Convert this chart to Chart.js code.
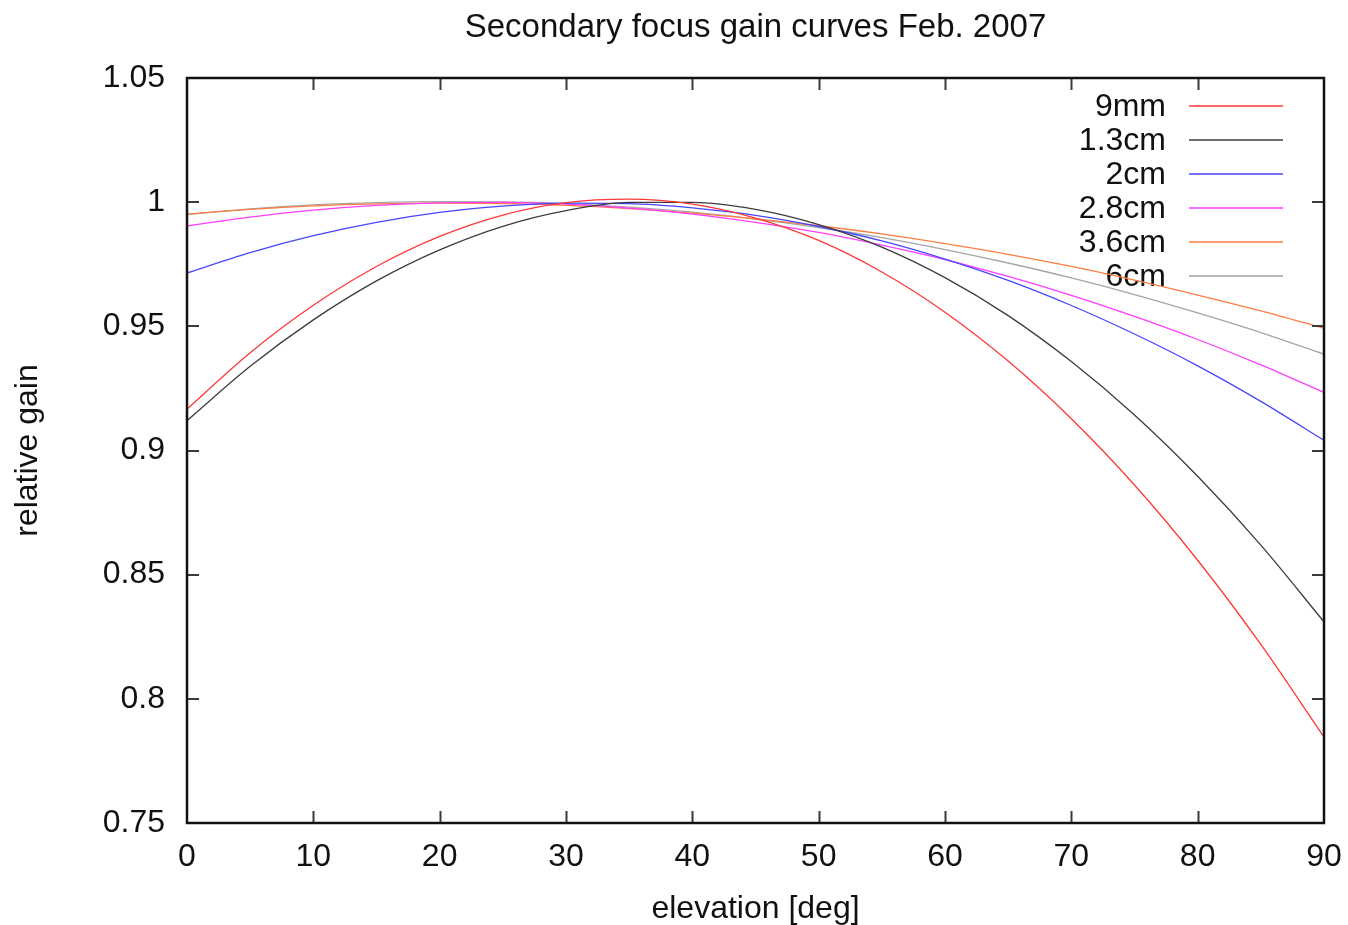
<!DOCTYPE html>
<html>
<head>
<meta charset="utf-8">
<title>Secondary focus gain curves Feb. 2007</title>
<script src="https://cdn.jsdelivr.net/npm/chart.js@4.4.1/dist/chart.umd.min.js"></script>
<style>
  html, body { margin: 0; padding: 0; background: #ffffff; }
  #wrap { width: 1348px; height: 925px; position: relative; }
</style>
</head>
<body>
<div id="wrap"><canvas id="chart" width="1348" height="925"></canvas></div>
<script>
// Elevation samples (degrees)
const elevation = [0, 5, 10, 15, 20, 25, 30, 35, 40, 45, 50, 55, 60, 65, 70, 75, 80, 85, 90];

// Relative gain per receiver band
const gain9mm  = [0.9167, 0.9394, 0.9585, 0.9741, 0.9862, 0.9948, 0.9998, 1.0012, 0.9992, 0.9936,
                  0.9846, 0.9719, 0.9557, 0.9360, 0.9128, 0.8861, 0.8558, 0.8219, 0.7846];
const gain13cm = [0.9120, 0.9339, 0.9526, 0.9683, 0.9808, 0.9903, 0.9966, 0.9999, 0.9999, 0.9971,
                  0.9910, 0.9819, 0.9696, 0.9543, 0.9358, 0.9143, 0.8896, 0.8619, 0.8310];
const gain2cm  = [0.9715, 0.9797, 0.9865, 0.9919, 0.9959, 0.9984, 0.9996, 0.9994, 0.9977, 0.9947,
                  0.9902, 0.9844, 0.9771, 0.9685, 0.9584, 0.9469, 0.9341, 0.9198, 0.9041];
const gain28cm = [0.9904, 0.9940, 0.9968, 0.9987, 0.9997, 0.9999, 0.9992, 0.9976, 0.9952, 0.9919,
                  0.9878, 0.9827, 0.9769, 0.9701, 0.9625, 0.9540, 0.9447, 0.9345, 0.9234];
const gain36cm = [0.9952, 0.9971, 0.9985, 0.9993, 0.9996, 0.9994, 0.9987, 0.9974, 0.9956, 0.9933,
                  0.9905, 0.9872, 0.9833, 0.9790, 0.9741, 0.9686, 0.9626, 0.9562, 0.9492];
const gain6cm  = [0.9950, 0.9973, 0.9989, 0.9998, 1.0002, 1.0001, 0.9994, 0.9980, 0.9960, 0.9932,
                  0.9898, 0.9857, 0.9809, 0.9755, 0.9695, 0.9628, 0.9554, 0.9475, 0.9388];

const bandLabels = ['9mm', '1.3cm', '2cm', '2.8cm', '3.6cm', '6cm'];
const bandColors = ['rgb(255,55,55)', 'rgb(60,60,60)', 'rgb(70,70,255)',
                    'rgb(255,60,255)', 'rgb(255,125,65)', 'rgb(165,165,165)'];
const bandGains  = [gain9mm, gain13cm, gain2cm, gain28cm, gain36cm, gain6cm];

const xTicks = [0, 10, 20, 30, 40, 50, 60, 70, 80, 90];
const yTicks = [0.75, 0.8, 0.85, 0.9, 0.95, 1.0, 1.05];

const chartTitle = 'Secondary focus gain curves Feb. 2007';

const FONT = '"Liberation Sans", Arial, Helvetica, sans-serif';
const FSIZE = 32;

const datasets = bandGains.map((g, i) => ({
  label: bandLabels[i],
  data: elevation.map((e, k) => ({ x: e, y: g[k] })),
  borderColor: bandColors[i],
  backgroundColor: bandColors[i],
  borderWidth: 1.3,
  pointRadius: 0,
  fill: false,
  cubicInterpolationMode: 'monotone'
}));

// Title over the plot, frame, inward tick marks on all four sides, and the key
const framePlugin = {
  id: 'frame',
  beforeDatasetsDraw(chart) {
    const { ctx, chartArea: a } = chart;
    ctx.save();
    // title, centred over the plot area
    ctx.font = '33px ' + FONT;
    ctx.fillStyle = '#111111';
    ctx.textAlign = 'center';
    ctx.textBaseline = 'middle';
    ctx.fillText(chartTitle, (a.left + a.right) / 2, 28);
    // key
    ctx.font = FSIZE + 'px ' + FONT;
    ctx.textAlign = 'right';
    chart.data.datasets.forEach((ds, i) => {
      const y = a.top + 28 + i * 34;
      ctx.fillStyle = '#111111';
      ctx.fillText(ds.label, a.right - 158, y + 1);
      ctx.strokeStyle = ds.borderColor;
      ctx.lineWidth = 1.3;
      ctx.beginPath();
      ctx.moveTo(a.right - 135, y);
      ctx.lineTo(a.right - 41, y);
      ctx.stroke();
    });
    ctx.restore();
  },
  afterDraw(chart) {
    const { ctx, chartArea: a, scales } = chart;
    const tl = 12;
    ctx.save();
    ctx.strokeStyle = '#3a3a3a';
    ctx.lineWidth = 2;
    ctx.beginPath();
    xTicks.forEach(v => {
      const px = Math.round(scales.x.getPixelForValue(v)) + 0.5;
      if (v !== xTicks[0] && v !== xTicks[xTicks.length - 1]) {
        ctx.moveTo(px, a.bottom); ctx.lineTo(px, a.bottom - tl);
        ctx.moveTo(px, a.top); ctx.lineTo(px, a.top + tl);
      }
    });
    yTicks.forEach(v => {
      const py = Math.round(scales.y.getPixelForValue(v));
      ctx.moveTo(a.left, py); ctx.lineTo(a.left + tl, py);
      ctx.moveTo(a.right, py); ctx.lineTo(a.right - tl, py);
    });
    ctx.stroke();
    ctx.strokeStyle = '#111111';
    ctx.lineWidth = 2.5;
    ctx.strokeRect(a.left, a.top, a.right - a.left, a.bottom - a.top);
    ctx.restore();
  }
};

new Chart(document.getElementById('chart'), {
  type: 'line',
  data: { datasets },
  options: {
    responsive: false,
    animation: false,
    layout: { padding: { left: 0, right: 24, top: 78, bottom: 0 } },
    plugins: {
      legend: { display: false },
      tooltip: { enabled: false },
      title: { display: false }
    },
    scales: {
      x: {
        type: 'linear',
        min: 0,
        max: 90,
        afterBuildTicks(scale) { scale.ticks = xTicks.map(v => ({ value: v })); },
        afterFit(scale) { scale.height = 102; scale.paddingLeft = 0; scale.paddingRight = 0; },
        grid: { display: false, drawTicks: false },
        border: { display: false },
        ticks: {
          color: '#111111',
          padding: 15,
          maxRotation: 0,
          autoSkip: false,
          font: { family: FONT, size: FSIZE, lineHeight: 1.2 },
          callback: v => String(v)
        },
        title: {
          display: true,
          text: 'elevation [deg]',
          color: '#111111',
          font: { family: FONT, size: FSIZE, lineHeight: 1 },
          padding: { top: 0, bottom: 0 }
        }
      },
      y: {
        type: 'linear',
        min: 0.75,
        max: 1.05,
        afterBuildTicks(scale) { scale.ticks = yTicks.map(v => ({ value: v })); },
        afterFit(scale) { scale.width = 187; scale.paddingTop = 0; scale.paddingBottom = 0; },
        grid: { display: false, drawTicks: false },
        border: { display: false },
        ticks: {
          color: '#111111',
          padding: 22,
          autoSkip: false,
          font: { family: FONT, size: FSIZE, lineHeight: 1.2 },
          callback: v => String(Number(v.toFixed(2)))
        },
        title: {
          display: true,
          text: 'relative gain',
          color: '#111111',
          font: { family: FONT, size: FSIZE, lineHeight: 1 },
          padding: { top: 12, bottom: 0 }
        }
      }
    }
  },
  plugins: [framePlugin]
});
</script>
</body>
</html>
